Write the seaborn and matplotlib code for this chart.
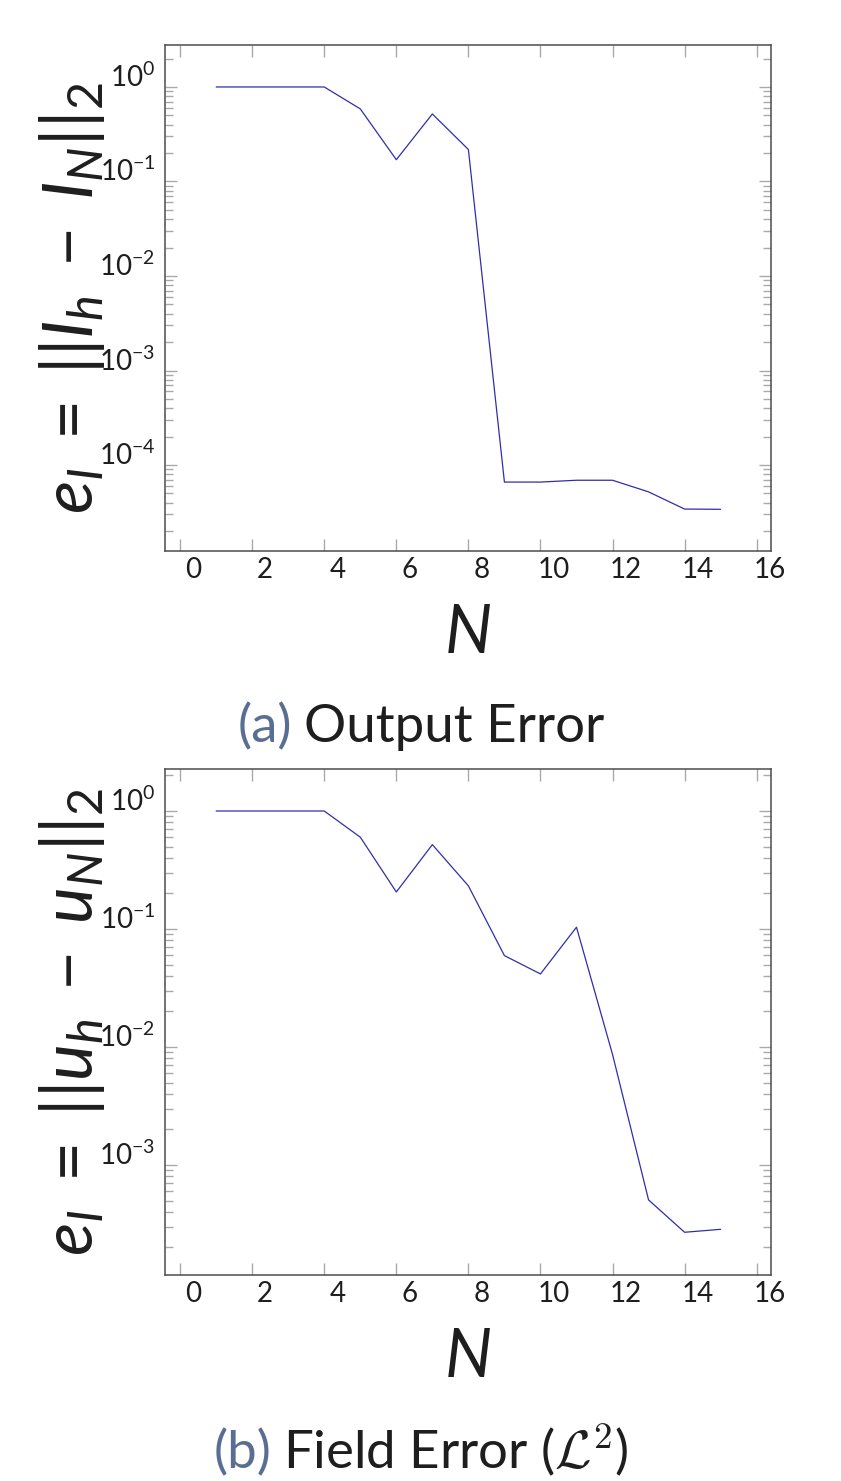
import numpy as np
import pandas as pd
import matplotlib
matplotlib.use("Agg")
import matplotlib.pyplot as plt
import seaborn as sns
from matplotlib.ticker import LogLocator, FixedLocator, NullLocator, LogFormatterSciNotation
from matplotlib.transforms import ScaledTranslation

# ---------------- data ----------------
N_values = list(range(1, 16))
output_error = [1.0, 1.0, 1.0, 1.0, 0.586, 0.170, 0.518, 0.218,
                6.6e-5, 6.6e-5, 6.9e-5, 6.9e-5, 5.2e-5, 3.42e-5, 3.40e-5]
field_error = [1.0, 1.0, 1.0, 1.0, 0.600, 0.206, 0.519, 0.232,
               0.0595, 0.0416, 0.1036, 0.00866, 5.06e-4, 2.69e-4, 2.85e-4]
x_ticks = [0, 2, 4, 6, 8, 10, 12, 14, 16]
panel_tags = ["(a)", "(b)"]
panel_titles = ["Output Error", r"Field Error ($\mathcal{L}^2$)"]
y_labels = [r"$e_I \;=\; ||I_h \;-\; I_N||_2$", r"$e_I \;=\; ||u_h \;-\; u_N||_2$"]
x_label = r"$N$"
y_limits = [(1.24e-5, 2.78), (1.18e-4, 2.27)]
x_limits = (-0.42, 16.39)

# ---------------- style ----------------
sns.set_theme(style="ticks")
plt.rcParams["font.family"] = ["Lato", "DejaVu Sans"]
plt.rcParams["mathtext.fontset"] = "custom"
plt.rcParams["mathtext.rm"] = "Lato"
plt.rcParams["mathtext.it"] = "Lato:italic"
plt.rcParams["mathtext.bf"] = "Lato:bold"
plt.rcParams["mathtext.sf"] = "Lato"

W, H = 841, 1481
fig = plt.figure(figsize=(W / 100, H / 100), dpi=100)

line_color = "#2f2fa8"
spine_color = "#4d4d4d"
tick_color = "#a9a9a9"
text_color = "#1e1e1e"
tag_color = "#5a6e94"

axes_px = [(165, 45, 770.7, 550.7), (165, 769, 770.7, 1274.5)]
caption_baseline = [742, 1468]
xlabel_center = [634, 1358]

series = [output_error, field_error]
for i in range(2):
    l, t, r, b = axes_px[i]
    ax = fig.add_axes([l / W, 1 - b / H, (r - l) / W, (b - t) / H])
    df = pd.DataFrame({"N": N_values, "err": series[i]})
    sns.lineplot(data=df, x="N", y="err", ax=ax, color=line_color, linewidth=0.9)
    ax.set_yscale("log")
    ax.set_xlim(*x_limits)
    ax.set_ylim(*y_limits[i])
    ax.xaxis.set_major_locator(FixedLocator(x_ticks))
    ax.xaxis.set_minor_locator(NullLocator())
    ax.yaxis.set_major_locator(LogLocator(base=10, numticks=20))
    ax.yaxis.set_minor_locator(LogLocator(base=10, subs=np.arange(2, 10), numticks=100))
    ax.yaxis.set_major_formatter(LogFormatterSciNotation())
    ax.set_xlabel("")
    ax.set_ylabel("")
    for s in ax.spines.values():
        s.set_color(spine_color)
        s.set_linewidth(1.1)
    ax.tick_params(which="both", direction="in", top=True, right=True,
                   color=tick_color, width=1.0, labelcolor=text_color)
    ax.tick_params(which="major", length=8.5)
    ax.tick_params(which="minor", length=5.8)
    ax.tick_params(axis="x", labelsize=20, pad=4.5)
    ax.tick_params(axis="y", labelsize=20, pad=7)
    fig.canvas.draw()
    offx = ScaledTranslation(13 / 100, 0, fig.dpi_scale_trans)
    for lab in ax.get_xticklabels():
        lab.set_transform(lab.get_transform() + offx)
    for lab in ax.get_yticklabels():
        lab.set_verticalalignment("baseline")

    cy = 1 - ((t + b) / 2) / H
    fig.text(72.5 / W, cy, y_labels[i], rotation=90, ha="center", va="center",
             fontsize=50, color=text_color)
    fig.text((l + r) / 2 / W, 1 - xlabel_center[i] / H, x_label, ha="center",
             va="center", fontsize=48, color=text_color)

    # caption: coloured tag + title, centred on figure
    yb = 1 - caption_baseline[i] / H
    t1 = fig.text(0, yb, panel_tags[i], ha="left", va="baseline", fontsize=38,
                  color=tag_color)
    t2 = fig.text(0, yb, panel_titles[i], ha="left", va="baseline", fontsize=38,
                  color=text_color, math_fontfamily="cm")
    fig.canvas.draw()
    rend = fig.canvas.get_renderer()
    w1 = t1.get_window_extent(rend).width
    w2 = t2.get_window_extent(rend).width
    gap = 12
    total = w1 + gap + w2
    x0 = 421 - total / 2
    t1.set_x(x0 / W)
    t2.set_x((x0 + w1 + gap) / W)

fig.savefig("out.png", dpi=100)
